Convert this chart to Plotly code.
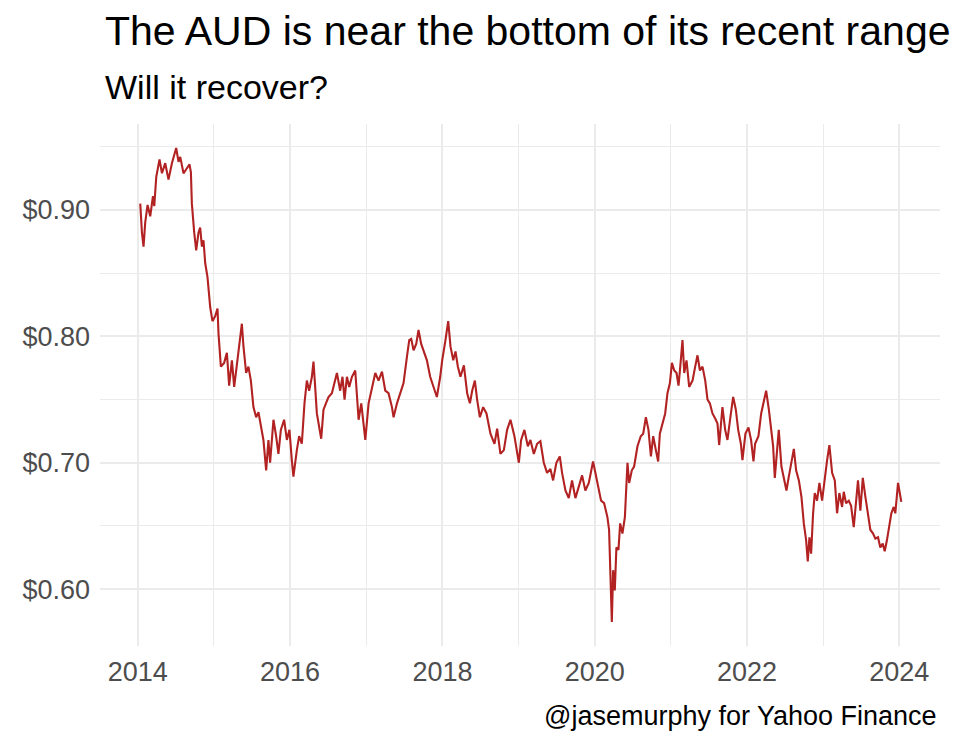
import pandas as pd
import plotly.graph_objects as go

# Decimal-year dates and AUD/USD values
years = [
    2014.033, 2014.055, 2014.076, 2014.098, 2014.129, 2014.164, 2014.200, 2014.217, 2014.243, 2014.286,
    2014.318, 2014.361, 2014.404, 2014.449, 2014.505, 2014.536, 2014.558, 2014.601, 2014.646, 2014.680,
    2014.698, 2014.711, 2014.742, 2014.768, 2014.798, 2014.820, 2014.843, 2014.864, 2014.886, 2014.916,
    2014.952, 2014.982, 2015.017, 2015.048, 2015.061, 2015.092, 2015.135, 2015.171, 2015.201, 2015.237,
    2015.267, 2015.310, 2015.346, 2015.368, 2015.389, 2015.424, 2015.454, 2015.486, 2015.520, 2015.556,
    2015.586, 2015.617, 2015.651, 2015.687, 2015.717, 2015.739, 2015.783, 2015.818, 2015.848, 2015.880,
    2015.923, 2015.959, 2015.993, 2016.024, 2016.045, 2016.090, 2016.120, 2016.155, 2016.190, 2016.221,
    2016.251, 2016.287, 2016.308, 2016.330, 2016.352, 2016.409, 2016.439, 2016.471, 2016.505, 2016.549,
    2016.593, 2016.615, 2016.658, 2016.688, 2016.715, 2016.746, 2016.776, 2016.812, 2016.855, 2016.877,
    2016.899, 2016.934, 2016.987, 2017.030, 2017.074, 2017.118, 2017.161, 2017.206, 2017.249, 2017.292,
    2017.337, 2017.358, 2017.403, 2017.446, 2017.489, 2017.534, 2017.564, 2017.590, 2017.621, 2017.656,
    2017.686, 2017.721, 2017.765, 2017.796, 2017.839, 2017.883, 2017.927, 2017.971, 2017.997, 2018.040,
    2018.076, 2018.106, 2018.142, 2018.172, 2018.203, 2018.237, 2018.282, 2018.325, 2018.361, 2018.391,
    2018.426, 2018.456, 2018.492, 2018.535, 2018.579, 2018.631, 2018.684, 2018.719, 2018.762, 2018.807,
    2018.850, 2018.894, 2018.946, 2019.004, 2019.034, 2019.077, 2019.122, 2019.156, 2019.201, 2019.244,
    2019.287, 2019.332, 2019.375, 2019.419, 2019.454, 2019.497, 2019.542, 2019.572, 2019.616, 2019.660,
    2019.703, 2019.747, 2019.791, 2019.835, 2019.878, 2019.923, 2019.979, 2020.032, 2020.084, 2020.124,
    2020.167, 2020.189, 2020.212, 2020.225, 2020.242, 2020.264, 2020.285, 2020.312, 2020.334, 2020.364,
    2020.396, 2020.430, 2020.452, 2020.487, 2020.517, 2020.561, 2020.604, 2020.636, 2020.671, 2020.705,
    2020.737, 2020.767, 2020.802, 2020.832, 2020.854, 2020.889, 2020.924, 2020.954, 2020.986, 2021.012,
    2021.043, 2021.073, 2021.099, 2021.122, 2021.151, 2021.174, 2021.204, 2021.239, 2021.283, 2021.318,
    2021.348, 2021.380, 2021.414, 2021.450, 2021.480, 2021.511, 2021.545, 2021.581, 2021.611, 2021.633,
    2021.676, 2021.712, 2021.742, 2021.787, 2021.817, 2021.852, 2021.883, 2021.918, 2021.939, 2021.978,
    2022.018, 2022.052, 2022.084, 2022.105, 2022.149, 2022.185, 2022.220, 2022.250, 2022.286, 2022.320,
    2022.342, 2022.364, 2022.394, 2022.416, 2022.451, 2022.483, 2022.517, 2022.548, 2022.582, 2022.614,
    2022.644, 2022.680, 2022.714, 2022.745, 2022.775, 2022.797, 2022.819, 2022.841, 2022.867, 2022.889,
    2022.919, 2022.950, 2022.985, 2023.021, 2023.051, 2023.081, 2023.117, 2023.152, 2023.182, 2023.212,
    2023.248, 2023.270, 2023.300, 2023.336, 2023.366, 2023.401, 2023.431, 2023.457, 2023.488, 2023.520,
    2023.554, 2023.589, 2023.619, 2023.655, 2023.685, 2023.720, 2023.750, 2023.782, 2023.808, 2023.838,
    2023.861, 2023.895, 2023.926, 2023.947, 2023.983, 2024.013, 2024.026,
]

aud = [
    0.905, 0.882, 0.871, 0.890, 0.904, 0.895, 0.911, 0.903, 0.926, 0.940,
    0.929, 0.937, 0.924, 0.937, 0.949, 0.938, 0.942, 0.929, 0.933, 0.936,
    0.930, 0.905, 0.882, 0.868, 0.882, 0.886, 0.871, 0.876, 0.858, 0.847,
    0.823, 0.812, 0.816, 0.822, 0.802, 0.776, 0.779, 0.787, 0.761, 0.781,
    0.760, 0.781, 0.797, 0.810, 0.792, 0.771, 0.776, 0.765, 0.744, 0.736,
    0.740, 0.728, 0.718, 0.694, 0.718, 0.700, 0.734, 0.721, 0.707, 0.726,
    0.734, 0.718, 0.726, 0.702, 0.689, 0.710, 0.721, 0.715, 0.747, 0.765,
    0.757, 0.768, 0.780, 0.760, 0.739, 0.719, 0.742, 0.747, 0.752, 0.755,
    0.765, 0.771, 0.757, 0.768, 0.750, 0.768, 0.760, 0.768, 0.773, 0.752,
    0.734, 0.747, 0.718, 0.747, 0.760, 0.771, 0.765, 0.772, 0.757, 0.755,
    0.744, 0.736, 0.747, 0.755, 0.763, 0.784, 0.797, 0.798, 0.789, 0.794,
    0.805, 0.794, 0.787, 0.781, 0.768, 0.760, 0.752, 0.768, 0.781, 0.797,
    0.812, 0.792, 0.781, 0.788, 0.776, 0.768, 0.777, 0.755, 0.747, 0.757,
    0.765, 0.750, 0.736, 0.744, 0.739, 0.723, 0.715, 0.727, 0.707, 0.710,
    0.726, 0.734, 0.721, 0.700, 0.718, 0.726, 0.713, 0.718, 0.707, 0.715,
    0.717, 0.700, 0.692, 0.695, 0.686, 0.700, 0.705, 0.692, 0.678, 0.672,
    0.686, 0.672, 0.681, 0.690, 0.678, 0.684, 0.701, 0.686, 0.670, 0.668,
    0.657, 0.647, 0.599, 0.574, 0.615, 0.599, 0.633, 0.631, 0.652, 0.644,
    0.657, 0.700, 0.684, 0.694, 0.697, 0.713, 0.721, 0.723, 0.736, 0.726,
    0.705, 0.721, 0.710, 0.701, 0.723, 0.730, 0.739, 0.755, 0.763, 0.779,
    0.773, 0.771, 0.761, 0.776, 0.797, 0.771, 0.781, 0.760, 0.765, 0.776,
    0.785, 0.773, 0.776, 0.765, 0.750, 0.747, 0.739, 0.735, 0.731, 0.714,
    0.744, 0.726, 0.718, 0.739, 0.752, 0.742, 0.726, 0.715, 0.702, 0.723,
    0.728, 0.718, 0.701, 0.715, 0.721, 0.739, 0.750, 0.757, 0.742, 0.723,
    0.713, 0.688, 0.713, 0.726, 0.697, 0.689, 0.678, 0.689, 0.700, 0.711,
    0.694, 0.686, 0.673, 0.652, 0.639, 0.622, 0.641, 0.628, 0.660, 0.676,
    0.670, 0.684, 0.670, 0.689, 0.702, 0.714, 0.692, 0.686, 0.660, 0.676,
    0.665, 0.677, 0.668, 0.670, 0.666, 0.649, 0.673, 0.686, 0.662, 0.688,
    0.673, 0.657, 0.647, 0.644, 0.640, 0.641, 0.633, 0.636, 0.630, 0.639,
    0.649, 0.660, 0.665, 0.660, 0.684, 0.673, 0.669,
]

x_tick_years = ["2014", "2016", "2018", "2020", "2022", "2024"]
y_tick_values = [0.60, 0.70, 0.80, 0.90]
y_tick_labels = ["$0.60", "$0.70", "$0.80", "$0.90"]

title_text = "The AUD is near the bottom of its recent range"
subtitle_text = "Will it recover?"
caption_text = "@jasemurphy for Yahoo Finance"


def to_date(y):
    yr = int(y)
    start = pd.Timestamp(year=yr, month=1, day=1)
    ndays = 366 if pd.Timestamp(year=yr, month=12, day=31).dayofyear == 366 else 365
    return start + pd.Timedelta(days=(y - yr) * ndays)


dates = [to_date(y) for y in years]

FONT = "Liberation Sans, Arial, Helvetica, sans-serif"
GRID = "#EBEBEB"

fig = go.Figure()
fig.add_trace(go.Scatter(
    x=dates, y=aud, mode="lines",
    line=dict(color="#B22222", width=2.1),
    showlegend=False, hoverinfo="skip",
))

fig.update_layout(
    width=959, height=751,
    margin=dict(l=100, r=19, t=124, b=105),
    paper_bgcolor="white", plot_bgcolor="white",
    font=dict(family=FONT, size=27, color="#4D4D4D"),
    showlegend=False,
    xaxis=dict(
        range=["2013-07-04", "2024-07-14"],
        tickvals=[pd.Timestamp(f"{y}-01-01") for y in x_tick_years],
        ticktext=x_tick_years,
        showgrid=True, gridcolor=GRID, gridwidth=2.4,
        minor=dict(dtick="M12", tick0="2014-01-01", showgrid=True, gridcolor=GRID, gridwidth=1.2),
        zeroline=False, showline=False, ticks="",
        ticklabelstandoff=7,
        tickfont=dict(size=27, color="#4D4D4D"),
    ),
    yaxis=dict(
        range=[0.555, 0.968],
        tickvals=y_tick_values,
        ticktext=y_tick_labels,
        showgrid=True, gridcolor=GRID, gridwidth=2.4,
        minor=dict(dtick=0.05, tick0=0.6, showgrid=True, gridcolor=GRID, gridwidth=1.2),
        zeroline=False, showline=False, ticks="",
        ticklabelstandoff=9,
        tickfont=dict(size=27, color="#4D4D4D"),
    ),
    annotations=[
        dict(text=title_text, xref="paper", yref="paper", x=0.003, y=1.178,
             xanchor="left", yanchor="middle", showarrow=False,
             font=dict(family=FONT, size=41, color="black")),
        dict(text=subtitle_text, xref="paper", yref="paper", x=0.003, y=1.071,
             xanchor="left", yanchor="middle", showarrow=False,
             font=dict(family=FONT, size=34, color="black")),
        dict(text=caption_text, xref="paper", yref="paper", x=0.999, y=-0.134,
             xanchor="right", yanchor="middle", showarrow=False,
             font=dict(family=FONT, size=27, color="black")),
    ],
)

fig.write_html("out.html", config={"displayModeBar": False},
               post_script="document.body.style.margin='0';")
